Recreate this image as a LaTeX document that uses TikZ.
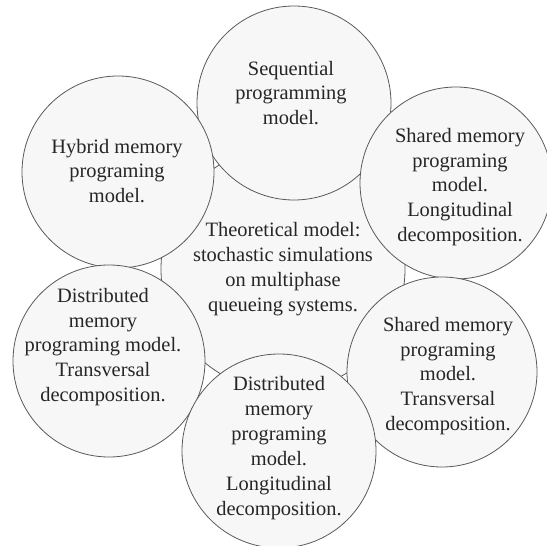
\documentclass[tikz,border=0pt]{standalone}
\usepackage{fontspec}
\setmainfont{Liberation Serif}
\usetikzlibrary{positioning}

\tikzset{
    bubble/.style={circle, draw=black!65, line width=0.8pt, fill=black!3,
        minimum size=#1, inner sep=0pt},
    bubbletext/.style={align=center, text=black!85,
        font=\fontsize{20.5}{25}\selectfont}
}

\begin{document}
\begin{tikzpicture}[x=1bp, y=-1bp]
    \useasboundingbox (0,0) rectangle (547,546);

    % Vòng tròn trung tâm
    \node[bubble=244bp] (core) at (283,269) {};

    % Sáu vòng tròn bao quanh
    \node[bubble=194bp] (seq)   at (294,103) {};
    \node[bubble=192bp] (hyb)   at (118,172) {};
    \node[bubble=192bp] (shl)   at (456,183) {};
    \node[bubble=192bp] (dtr)   at (109,361) {};
    \node[bubble=190bp] (sht)   at (442,372) {};
    \node[bubble=194bp] (dlo)   at (279,451) {};

    % Nội dung chữ
    \node[bubbletext] (coretxt) at (283,269)
        {Theoretical model:\\stochastic simulations\\on multiphase\\queueing systems.};
    \node[bubbletext] (seqtxt) at (291,93)
        {Sequential\\programming\\model.};
    \node[bubbletext] (hybtxt) at (117,171)
        {Hybrid memory\\programing\\model.};
    \node[bubbletext] (shltxt) at (460,187)
        {Shared memory\\programing\\model.\\Longitudinal\\decomposition.};
    \node[bubbletext] (dtrtxt) at (103,347)
        {Distributed\\memory\\programing model.\\Transversal\\decomposition.};
    \node[bubbletext] (shttxt) at (448,376)
        {Shared memory\\programing\\model.\\Transversal\\decomposition.};
    \node[bubbletext] (dlotxt) at (279,448)
        {Distributed\\memory\\programing\\model.\\Longitudinal\\decomposition.};
\end{tikzpicture}
\end{document}
